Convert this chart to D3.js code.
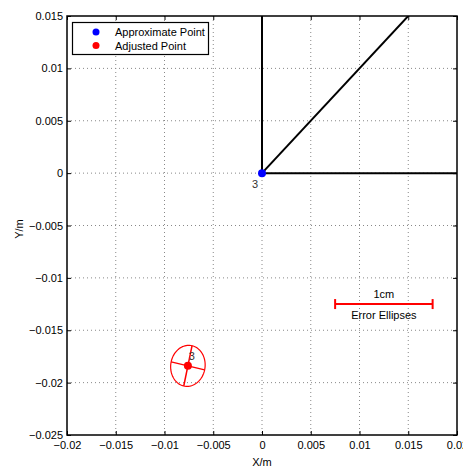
<!DOCTYPE html>
<html lang="en">
  <head>
    <meta charset="UTF-8" />
    <title>Error Ellipses</title>
    <script src="https://cdnjs.cloudflare.com/ajax/libs/d3/7.8.5/d3.min.js"></script>
    <style>
      body {
        margin: 0;
        background: #fff;
        font-family: "Liberation Sans", Arial, sans-serif;
      }
      .grid line {
        stroke: #888;
        stroke-width: 1px;
        stroke-dasharray: 1, 3;
      }
      text {
        font-size: 11px;
        fill: #000;
      }
    </style>
  </head>
  <body>
    <div id="chart"></div>
    <script>
      // chart size and plot box
      const width = 463;
      const height = 469;
      const margin = { top: 16, right: 6, bottom: 34, left: 67 };

      // axis ticks
      const xTicks = [-0.02, -0.015, -0.01, -0.005, 0, 0.005, 0.01, 0.015, 0.02];
      const yTicks = [-0.025, -0.02, -0.015, -0.01, -0.005, 0, 0.005, 0.01, 0.015];

      // network lines from point 3 (ends lie outside the view)
      const lineEnds = [
        [0, 0.03],
        [0.03, 0.03],
        [0.04, 0]
      ];

      // points
      const pointNames = ["3"];
      const approxX = [0];
      const approxY = [0];
      const adjX = [-0.0076];
      const adjY = [-0.0184];

      // error ellipse (drawn in plot units): semi-major, semi-minor, angle in degrees
      const ellA = [0.00197];
      const ellB = [0.00176];
      const ellAngle = [77.5];

      // scale bar
      const barStart = 0.0075;
      const barEnd = 0.0175;
      const barY = -0.0125;

      const svg = d3
        .select("#chart")
        .append("svg")
        .attr("width", width)
        .attr("height", height);

      const x = d3
        .scaleLinear()
        .domain([-0.02, 0.02])
        .range([margin.left, width - margin.right]);
      const y = d3
        .scaleLinear()
        .domain([-0.025, 0.015])
        .range([height - margin.bottom, margin.top]);

      const fmt = (d) => (d < 0 ? "\u2212" + String(-d) : String(d));

      // grid
      const grid = svg.append("g").attr("class", "grid");
      grid
        .selectAll(".gx")
        .data(xTicks.slice(1, -1))
        .enter()
        .append("line")
        .attr("x1", (d) => x(d))
        .attr("x2", (d) => x(d))
        .attr("y1", y.range()[1])
        .attr("y2", y.range()[0]);
      grid
        .selectAll(".gy")
        .data(yTicks.slice(1, -1))
        .enter()
        .append("line")
        .attr("y1", (d) => y(d))
        .attr("y2", (d) => y(d))
        .attr("x1", x.range()[0])
        .attr("x2", x.range()[1]);

      // clip to plot box
      svg
        .append("defs")
        .append("clipPath")
        .attr("id", "clip")
        .append("rect")
        .attr("x", x.range()[0])
        .attr("y", y.range()[1])
        .attr("width", x.range()[1] - x.range()[0])
        .attr("height", y.range()[0] - y.range()[1]);

      const plot = svg.append("g").attr("clip-path", "url(#clip)");

      // network lines
      lineEnds.forEach((e) => {
        plot
          .append("line")
          .attr("x1", x(approxX[0]))
          .attr("y1", y(approxY[0]))
          .attr("x2", x(e[0]))
          .attr("y2", y(e[1]))
          .attr("stroke", "#000")
          .attr("stroke-width", 2);
      });

      // error ellipses
      pointNames.forEach((name, i) => {
        const t = (ellAngle[i] * Math.PI) / 180;
        const pts = d3.range(0, 361, 4).map((k) => {
          const u = (k * Math.PI) / 180;
          const ex = ellA[i] * Math.cos(u);
          const ey = ellB[i] * Math.sin(u);
          return [
            adjX[i] + ex * Math.cos(t) - ey * Math.sin(t),
            adjY[i] + ex * Math.sin(t) + ey * Math.cos(t)
          ];
        });
        plot
          .append("path")
          .attr(
            "d",
            d3
              .line()
              .x((d) => x(d[0]))
              .y((d) => y(d[1]))(pts)
          )
          .attr("fill", "none")
          .attr("stroke", "#f00")
          .attr("stroke-width", 1.2);
        // axes of the ellipse
        [
          [ellA[i], 0],
          [0, ellB[i]]
        ].forEach(([p, q]) => {
          const dx = p * Math.cos(t) - q * Math.sin(t);
          const dy = p * Math.sin(t) + q * Math.cos(t);
          plot
            .append("line")
            .attr("x1", x(adjX[i] - dx))
            .attr("y1", y(adjY[i] - dy))
            .attr("x2", x(adjX[i] + dx))
            .attr("y2", y(adjY[i] + dy))
            .attr("stroke", "#f00")
            .attr("stroke-width", 1.5);
        });
        plot
          .append("circle")
          .attr("cx", x(adjX[i]))
          .attr("cy", y(adjY[i]))
          .attr("r", 4)
          .attr("fill", "#f00");
        plot
          .append("text")
          .attr("x", x(adjX[i]) + 4)
          .attr("y", y(adjY[i]) - 6)
          .attr("text-anchor", "middle")
          .style("fill", "#333")
          .text(name);
      });

      // approximate points
      pointNames.forEach((name, i) => {
        plot
          .append("circle")
          .attr("cx", x(approxX[i]))
          .attr("cy", y(approxY[i]))
          .attr("r", 4)
          .attr("fill", "#00f");
        svg
          .append("text")
          .attr("x", x(approxX[i]) - 7)
          .attr("y", y(approxY[i]) + 15)
          .attr("text-anchor", "middle")
          .style("fill", "#333")
          .text(name);
      });

      // scale bar
      const bar = svg.append("g").attr("stroke", "#f00").attr("stroke-width", 2);
      bar
        .append("line")
        .attr("x1", x(barStart))
        .attr("x2", x(barEnd))
        .attr("y1", y(barY))
        .attr("y2", y(barY));
      [barStart, barEnd].forEach((v) => {
        bar
          .append("line")
          .attr("x1", x(v))
          .attr("x2", x(v))
          .attr("y1", y(barY) - 5)
          .attr("y2", y(barY) + 5);
      });
      svg
        .append("text")
        .attr("x", x((barStart + barEnd) / 2))
        .attr("y", y(barY) - 6)
        .attr("text-anchor", "middle")
        .text("1cm");
      svg
        .append("text")
        .attr("x", x((barStart + barEnd) / 2))
        .attr("y", y(barY) + 15)
        .attr("text-anchor", "middle")
        .text("Error Ellipses");

      // axes with inward ticks on all four sides
      const tick = 4;
      const axes = svg.append("g");
      axes
        .append("g")
        .attr("transform", `translate(0,${y.range()[0]})`)
        .call(d3.axisBottom(x).tickValues(xTicks).tickSize(-tick).tickPadding(6).tickFormat(fmt))
        .call((g) => g.select(".domain").remove());
      axes
        .append("g")
        .attr("transform", `translate(0,${y.range()[1]})`)
        .call(d3.axisTop(x).tickValues(xTicks).tickSize(-tick).tickFormat(""))
        .call((g) => g.select(".domain").remove());
      axes
        .append("g")
        .attr("transform", `translate(${x.range()[0]},0)`)
        .call(d3.axisLeft(y).tickValues(yTicks).tickSize(-tick).tickPadding(4).tickFormat(fmt))
        .call((g) => g.select(".domain").remove());
      axes
        .append("g")
        .attr("transform", `translate(${x.range()[1]},0)`)
        .call(d3.axisRight(y).tickValues(yTicks).tickSize(-tick).tickFormat(""))
        .call((g) => g.select(".domain").remove());
      axes.selectAll(".tick text").attr("font-size", 11).attr("font-family", null).style("fill", "#000");
      axes.selectAll(".tick line").attr("stroke", "#000");

      svg
        .append("rect")
        .attr("x", x.range()[0])
        .attr("y", y.range()[1])
        .attr("width", x.range()[1] - x.range()[0])
        .attr("height", y.range()[0] - y.range()[1])
        .attr("fill", "none")
        .attr("stroke", "#000")
        .attr("stroke-width", 1.5);

      // axis labels
      svg
        .append("text")
        .attr("x", x(0))
        .attr("y", 466)
        .attr("text-anchor", "middle")
        .text("X/m");
      svg
        .append("text")
        .attr("transform", `translate(23,229) rotate(-90)`)
        .attr("text-anchor", "middle")
        .text("Y/m");

      // legend
      const legend = svg.append("g");
      legend
        .append("rect")
        .attr("x", 72.5)
        .attr("y", 22.5)
        .attr("width", 136)
        .attr("height", 32)
        .attr("fill", "#fff")
        .attr("stroke", "#000")
        .attr("stroke-width", 1.2);
      const legendItems = [
        { label: "Approximate Point", color: "#00f" },
        { label: "Adjusted Point", color: "#f00" }
      ];
      legendItems.forEach((d, i) => {
        legend
          .append("circle")
          .attr("cx", 96)
          .attr("cy", 32 + i * 13.5)
          .attr("r", 3.5)
          .attr("fill", d.color);
        legend
          .append("text")
          .attr("x", 115)
          .attr("y", 36 + i * 13.5)
          .text(d.label);
      });
    </script>
  </body>
</html>
